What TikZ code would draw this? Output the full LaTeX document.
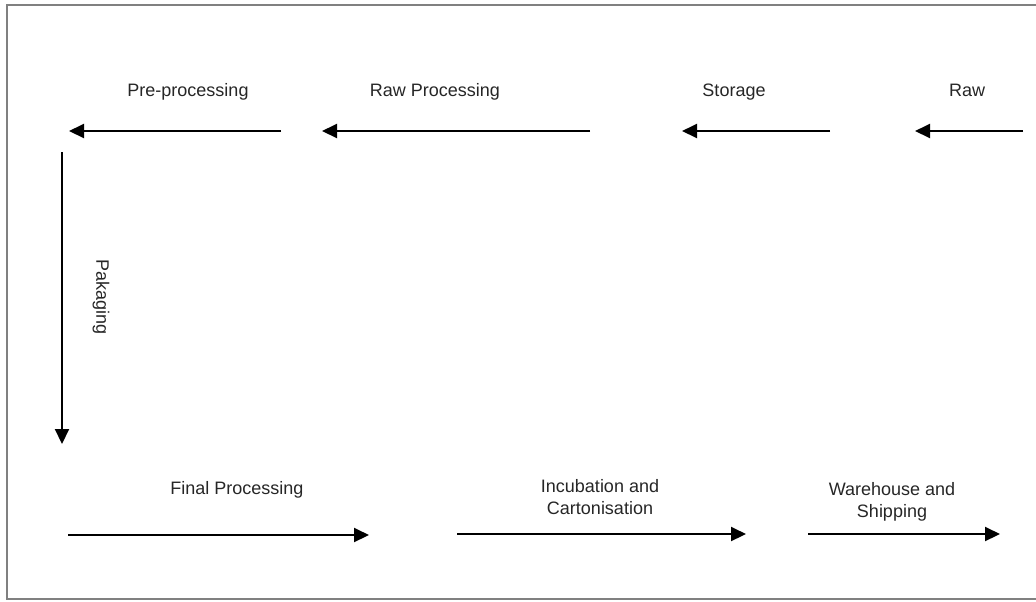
\documentclass[tikz,border=0pt]{standalone}
\usepackage{fontspec}
\setmainfont{Liberation Sans}
\usepackage{tikz}
\usetikzlibrary{arrows.meta}

\begin{document}
\begin{tikzpicture}[x=0.5pt,y=-0.5pt,
        stage/.style={font=\fontsize{9}{11}\selectfont,text=black!85,align=center,inner sep=0pt},
        flow/.style={-{Triangle[length=7.5pt,width=7pt]},line width=1pt}]
      \useasboundingbox (0,0) rectangle (1036,601);
      \draw[gray,line width=0.8pt] (1037,5) -- (7,5) -- (7,599) -- (1037,599);
      % labels
      \node [stage,anchor=base] (pre)  at (188,96)  {Pre-processing};
      \node [stage,anchor=base] (rawp) at (435,96)  {Raw Processing};
      \node [stage,anchor=base] (sto)  at (734,96)  {Storage};
      \node [stage,anchor=base] (raw)  at (967,96)  {Raw};
      \node [stage,rotate=-90] (pak) at (101,297) {Pakaging};
      \node [stage,anchor=base] (fin)  at (237,494) {Final Processing};
      \node [stage]           (inc)  at (600,497) {Incubation and\\Cartonisation};
      \node [stage]           (ware) at (892,502) {Warehouse and\\Shipping};
      % arrow ends
      \coordinate (raw1) at (1023,131);  \coordinate (raw2) at (915,131);
      \coordinate (sto1) at (830,131);   \coordinate (sto2) at (682,131);
      \coordinate (rawp1) at (590,131);  \coordinate (rawp2) at (322,131);
      \coordinate (pre1) at (281,131);   \coordinate (pre2) at (69,131);
      \coordinate (pak1) at (62,152);    \coordinate (pak2) at (62,444);
      \coordinate (fin1) at (68,535);    \coordinate (fin2) at (369,535);
      \coordinate (inc1) at (457,534);   \coordinate (inc2) at (746,534);
      \coordinate (ware1) at (808,534);  \coordinate (ware2) at (1000,534);
      \path[flow]
      (raw1) edge (raw2)
      (sto1) edge (sto2)
      (rawp1) edge (rawp2)
      (pre1) edge (pre2)
      (pak1) edge (pak2)
      (fin1) edge (fin2)
      (inc1) edge (inc2)
      (ware1) edge (ware2);
    \end{tikzpicture}
\end{document}
